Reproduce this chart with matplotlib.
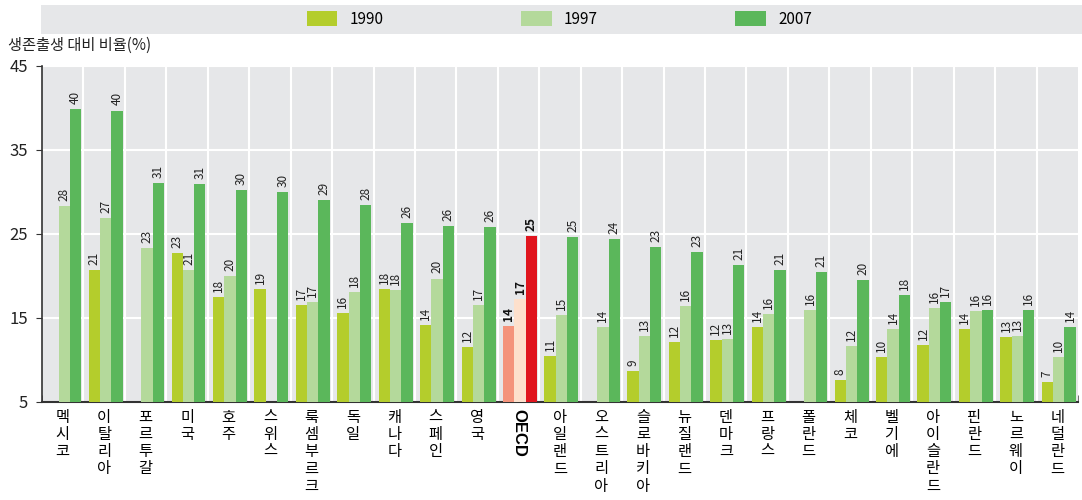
import numpy as np
import matplotlib
matplotlib.use("Agg")
import matplotlib.pyplot as plt
from matplotlib.patches import Rectangle, Patch

plt.rcParams['font.family'] = ['Liberation Sans Narrow', 'Noto Sans CJK KR', 'DejaVu Sans']

countries = ["멕시코", "이탈리아", "포르투갈", "미국", "호주", "스위스", "룩셈부르크", "독일",
             "캐나다", "스페인", "영국", "OECD", "아일랜드", "오스트리아", "슬로바키아", "뉴질랜드",
             "덴마크", "프랑스", "폴란드", "체코", "벨기에", "아이슬란드", "핀란드", "노르웨이", "네덜란드"]
v1990 = [np.nan, 20.7, np.nan, 22.7, 17.5, 18.5, 16.5, 15.6, 18.4, 14.2, 11.6, 14.1,
         10.5, np.nan, 8.7, 12.1, 12.4, 13.9, np.nan, 7.6, 10.4, 11.8, 13.7, 12.7, 7.35]
v1997 = [28.3, 26.9, 23.3, 20.7, 20.0, np.nan, 16.9, 18.1, 18.3, 19.7, 16.5, 17.3,
         15.3, 13.9, 12.9, 16.4, 12.5, 15.5, 16.0, 11.7, 13.7, 16.2, 15.8, 12.8, 10.3]
v2007 = [39.9, 39.7, 31.1, 31.0, 30.2, 30.0, 29.1, 28.5, 26.3, 26.0, 25.8, 24.8,
         24.6, 24.4, 23.4, 22.8, 21.3, 20.7, 20.5, 19.5, 17.7, 16.9, 16.0, 15.9, 13.9]
lbl1990 = ["", "21", "", "23", "18", "19", "17", "16", "18", "14", "12", "14",
           "11", "", "9", "12", "12", "14", "", "8", "10", "12", "14", "13", "7"]
lbl1997 = ["28", "27", "23", "21", "20", "", "17", "18", "18", "20", "17", "17",
           "15", "14", "13", "16", "13", "16", "16", "12", "14", "16", "16", "13", "10"]
lbl2007 = ["40", "40", "31", "31", "30", "30", "29", "28", "26", "26", "26", "25",
           "25", "24", "23", "23", "21", "21", "21", "20", "18", "17", "16", "16", "14"]
years = ["1990", "1997", "2007"]
yticks = [5, 15, 25, 35, 45]
ylabel = "생존출생 대비 비율(%)"

n = len(countries)
colors = ["#b4cd2c", "#b4d99b", "#5bb75b"]
oecd_colors = ["#f4937b", "#fde0cc", "#e0151e"]
oecd_idx = countries.index("OECD")

fig = plt.figure(figsize=(10.82, 5.0), dpi=100)
ax = fig.add_axes([42 / 1082, 1 - 402 / 500, (1078 - 42) / 1082, (402 - 66) / 500])
ax.set_facecolor("#e6e7e9")

x = np.arange(n)
w = 0.273
shift = 0.035
series = [v1990, v1997, v2007]
labels = [lbl1990, lbl1997, lbl2007]
for k, (vals, lab) in enumerate(zip(series, labels)):
    cols = [oecd_colors[k] if i == oecd_idx else colors[k] for i in range(n)]
    xs = x + (k - 1) * w + shift
    heights = np.array(vals, dtype=float)
    ax.bar(xs, heights - 5, bottom=5, width=w, color=cols, zorder=3, linewidth=0)
    for i in range(n):
        if not np.isnan(heights[i]) and lab[i]:
            ax.text(xs[i], heights[i] + 0.6, lab[i], rotation=90, ha="center", va="bottom",
                    fontsize=8.5, color="#222222" if i != oecd_idx else "#111111",
                    fontweight="bold" if i == oecd_idx else "normal", zorder=4)

ax.set_xlim(-0.5, n - 0.5)
ax.set_ylim(5, 45)
ax.set_yticks(yticks)
ax.set_yticklabels([str(t) for t in yticks], fontsize=12, color="#222222")
ax.yaxis.grid(True, color="white", linewidth=1.5, zorder=1)
for b in np.arange(n - 1) + 0.5:
    ax.axvline(b, color="white", linewidth=1.5, zorder=1)
ax.set_axisbelow(True)
for s in ["top", "right"]:
    ax.spines[s].set_visible(False)
ax.spines["left"].set_color("#333333")
ax.spines["bottom"].set_color("#333333")
ax.spines["left"].set_linewidth(1.2)
ax.spines["bottom"].set_linewidth(1.5)
ax.tick_params(axis="y", length=4, color="#333333", pad=6)

ax.set_xticks(np.arange(n + 1) - 0.5, minor=True)
ax.tick_params(axis="x", which="minor", length=5, color="#555555", direction="in")
ax.set_xticks(x)
ax.tick_params(axis="x", which="major", length=0, pad=3)
ax.set_xticklabels([""] * n)
for i, c in enumerate(countries):
    if c == "OECD":
        ax.text(i, 4.2, c, rotation=270, ha="center", va="top", fontsize=12,
                fontweight="bold", family=["Liberation Sans", "DejaVu Sans"],
                transform=ax.transData)
    else:
        ax.text(i, 4.2, "\n".join(c), ha="center", va="top", fontsize=11,
                linespacing=1.02, family=["Noto Sans CJK KR", "DejaVu Sans"],
                transform=ax.transData, clip_on=False)

# legend band
fig.patches.append(Rectangle((41 / 1082, 1 - 34 / 500), 1 - 41 / 1082, 29 / 500,
                             transform=fig.transFigure, facecolor="#e6e7e9",
                             edgecolor="none", zorder=0))
handles = [Patch(facecolor=c, edgecolor="none") for c in colors]
leg = fig.legend(handles, years, loc="center", bbox_to_anchor=(0.517, 1 - 19 / 500),
                 ncol=3, frameon=False, fontsize=11, handlelength=2.0, handleheight=1.1,
                 columnspacing=9, handletextpad=0.8)

fig.text(8 / 1082, 1 - 45 / 500, ylabel, fontsize=11, va="center", ha="left",
         family=["Noto Sans CJK KR", "DejaVu Sans"], color="#222222")

fig.savefig("out.png", dpi=100)
